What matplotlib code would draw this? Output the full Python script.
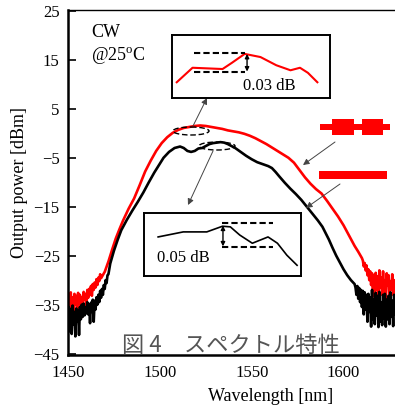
import matplotlib.pyplot as plt
import matplotlib.patches as mpatches
import numpy as np

plt.rcParams['font.family'] = ['Liberation Serif', 'DejaVu Serif']
plt.rcParams['mathtext.fontset'] = 'custom'
plt.rcParams['mathtext.rm'] = 'Liberation Serif'

# red spectrum (wavelength nm, power dBm)
red_wl = [1450.0, 1450.5, 1451.0, 1451.5, 1452.0, 1452.5, 1453.0, 1453.5, 1454.0, 1454.5,
          1455.0, 1455.5, 1456.0, 1456.5, 1457.0, 1457.5, 1458.0, 1458.5, 1459.0, 1459.5,
          1460.0, 1460.5, 1461.0, 1461.5, 1462.0, 1462.5, 1463.0, 1463.5, 1464.0, 1464.5,
          1465.0, 1465.5, 1466.0, 1466.5, 1467.0, 1467.5, 1468.0,
          1470, 1472, 1474, 1476, 1478, 1480, 1483, 1486, 1489, 1492, 1495, 1498, 1501,
          1504, 1507, 1510, 1513, 1516, 1519, 1522, 1525, 1528, 1531, 1534, 1537, 1540,
          1543, 1546, 1549, 1552, 1555, 1558, 1561, 1564, 1567, 1570, 1573, 1576, 1579,
          1582, 1585, 1588, 1591, 1594, 1597, 1600, 1603, 1606, 1608, 1610,
          1610.5, 1611.0, 1611.5, 1612.0, 1612.5, 1613.0, 1613.5, 1614.0, 1614.5, 1615.0,
          1615.5, 1616.0, 1616.5, 1617.0, 1617.5, 1618.0, 1618.5, 1619.0, 1619.5, 1620.0,
          1620.5, 1621.0, 1621.5, 1622.0, 1622.5, 1623.0, 1623.5, 1624.0, 1624.5, 1625.0,
          1625.5, 1626.0, 1626.5, 1627.0, 1627.5, 1628.0]
red_pw = [-37.5, -33.0, -36.0, -32.5, -35.5, -33.5, -37.0, -32.8, -35.0, -33.2,
          -36.5, -32.6, -34.8, -33.0, -37.8, -33.5, -35.2, -32.4, -34.0, -32.8,
          -35.5, -32.0, -33.6, -31.8, -33.0, -31.2, -33.2, -30.8, -32.0, -30.5,
          -31.5, -29.8, -31.0, -29.5, -30.2, -28.8, -29.6,
          -28.3, -26.2, -23.8, -21.5, -19.6, -17.8, -15.4, -13.3, -10.6, -7.8, -5.6, -3.6, -2.0,
          -0.8, 0.1, 0.7, 1.1, 1.3, 1.5, 1.6, 1.5, 1.3, 1.1, 0.9, 0.6, 0.4,
          0.2, -0.1, -0.5, -1.0, -1.6, -2.2, -2.9, -3.6, -4.3, -5.0, -6.0, -7.5, -9.0,
          -10.3, -11.4, -12.3, -13.8, -15.4, -17.0, -18.8, -20.9, -23.0, -24.2, -25.5,
          -26.0, -27.2, -26.5, -28.0, -27.0, -29.0, -27.8, -30.0, -28.2, -31.0,
          -28.6, -32.5, -29.0, -33.5, -28.5, -32.0, -29.2, -34.0, -28.0, -31.5,
          -29.5, -33.0, -28.2, -32.8, -30.0, -34.2, -28.6, -31.0, -29.0, -33.5,
          -30.2, -32.0, -28.8, -33.0, -30.0, -31.5]

# black spectrum
blk_wl = [1450.0, 1450.5, 1451.0, 1451.5, 1452.0, 1452.5, 1453.0, 1453.5, 1454.0, 1454.5,
          1455.0, 1455.5, 1456.0, 1456.5, 1457.0, 1457.5, 1458.0, 1458.5, 1459.0, 1459.5,
          1460.0, 1460.5, 1461.0, 1461.5, 1462.0, 1462.5, 1463.0, 1463.5, 1464.0, 1464.5,
          1465.0, 1465.5, 1466.0, 1466.5, 1467.0, 1467.5, 1468.0, 1468.5, 1469.0, 1469.5,
          1470.0, 1470.5, 1471.0, 1471.5, 1472.0,
          1473, 1475, 1477, 1479, 1482, 1485, 1488, 1491, 1494, 1497, 1499, 1502, 1505,
          1508, 1511, 1513, 1515, 1517, 1519, 1521, 1523, 1525, 1527, 1529, 1531, 1533,
          1535, 1537, 1539, 1541, 1544, 1547, 1550, 1553, 1556, 1559, 1561, 1563, 1565,
          1568, 1571, 1574, 1577, 1580, 1583, 1586, 1588.5, 1590, 1592, 1594, 1596, 1598,
          1600, 1602, 1604, 1606,
          1606.5, 1607.0, 1607.5, 1608.0, 1608.5, 1609.0, 1609.5, 1610.0, 1610.5, 1611.0,
          1611.5, 1612.0, 1612.5, 1613.0, 1613.5, 1614.0, 1614.5, 1615.0, 1615.5, 1616.0,
          1616.5, 1617.0, 1617.5, 1618.0, 1618.5, 1619.0, 1619.5, 1620.0, 1620.5, 1621.0,
          1621.5, 1622.0, 1622.5, 1623.0, 1623.5, 1624.0, 1624.5, 1625.0, 1625.5, 1626.0,
          1626.5, 1627.0, 1627.5, 1628.0]
blk_pw = [-38.0, -35.5, -40.5, -36.0, -41.0, -35.2, -39.0, -36.5, -41.5, -35.8,
          -38.5, -36.2, -41.2, -35.5, -38.0, -35.0, -37.5, -34.8, -37.2, -35.6,
          -36.8, -34.5, -37.0, -35.0, -38.8, -34.6, -36.5, -34.0, -38.5, -34.2,
          -36.0, -33.5, -35.0, -33.0, -34.5, -32.2, -33.6, -31.8, -33.0, -31.0,
          -31.8, -30.0, -30.6, -29.0, -28.8,
          -26.6, -24.0, -21.8, -19.8, -17.7, -15.8, -14.0, -12.1, -10.0, -8.0, -6.8, -5.0, -3.8,
          -3.0, -2.7, -3.0, -3.6, -3.8, -3.6, -3.1, -3.0, -2.6, -2.2, -2.0, -1.9, -1.8,
          -1.9, -2.2, -2.6, -3.0, -3.8, -4.6, -5.3, -5.9, -6.3, -6.7, -7.1, -7.9, -8.8,
          -10.1, -11.3, -12.4, -13.6, -15.0, -16.4, -17.8, -19.1, -20.2, -21.7, -23.4, -25.0, -26.4,
          -27.8, -29.0, -30.0, -30.8,
          -31.5, -33.0, -31.2, -33.8, -31.6, -34.5, -32.0, -35.5, -32.2, -37.0,
          -32.5, -36.0, -33.0, -38.5, -32.8, -36.5, -33.5, -39.5, -32.0, -38.0,
          -34.0, -39.0, -32.6, -37.2, -33.2, -39.6, -32.4, -38.5, -34.5, -39.2,
          -33.0, -37.8, -32.8, -39.5, -34.0, -38.0, -33.2, -39.0, -32.5, -37.5,
          -34.2, -39.4, -33.0, -37.0]

# zoomed insets (relative units, 0..1)
up_x = [0.03, 0.13, 0.32, 0.38, 0.46, 0.56, 0.66, 0.75, 0.81, 0.86, 0.92]
up_y = [0.25, 0.48, 0.46, 0.56, 0.70, 0.65, 0.52, 0.44, 0.48, 0.40, 0.25]
lo_x = [0.09, 0.25, 0.40, 0.50, 0.55, 0.61, 0.69, 0.74, 0.79, 0.85, 0.91, 0.975]
lo_y = [0.62, 0.70, 0.70, 0.79, 0.78, 0.65, 0.52, 0.57, 0.62, 0.52, 0.33, 0.17]

yticks = [-45, -35, -25, -15, -5, 5, 15, 25]
xticks = [1450, 1500, 1550, 1600]

W, H = 395, 407
fig = plt.figure(figsize=(W / 100, H / 100), dpi=100)
ax = fig.add_axes([68 / W, 1 - 355 / H, 1 - 68 / W, (355 - 10) / H])

ax.plot(red_wl, red_pw, color='#ff0000', lw=1.9, zorder=2)
ax.plot(blk_wl, blk_pw, color='black', lw=1.9, zorder=3)

ax.set_xlim(1450, 1628)
ax.set_ylim(-45.3, 25.2)
ax.set_xticks(xticks)
ax.set_yticks(yticks)
ax.tick_params(axis='y', direction='in', length=6, width=1.2, labelsize=12, pad=6)
ax.tick_params(axis='x', length=0, labelsize=12, pad=7)
ax.spines['right'].set_visible(False)
ax.spines['top'].set_linewidth(1.0)
ax.spines['left'].set_linewidth(1.8)
ax.spines['bottom'].set_linewidth(1.8)
ax.set_xlabel('Wavelength [nm]', fontsize=13)
ax.xaxis.set_label_coords((271 - 68) / (W - 68), -0.095)
ax.set_ylabel('Output power [dBm]', fontsize=13, labelpad=4)

ax.text(0.07, 0.935, 'CW', transform=ax.transAxes, fontsize=13, va='center')
ax.text(0.07, 0.865, r'@25$^{\rm o}$C', transform=ax.transAxes, fontsize=13, va='center')

# overlay in pixel units for annotations
ov = fig.add_axes([0, 0, 1, 1], zorder=5)
ov.set_xlim(0, W)
ov.set_ylim(H, 0)
ov.axis('off')

for cx, cy in [(191, 131), (217, 146)]:
    ov.add_patch(mpatches.Ellipse((cx, cy), 36, 8, fill=False, ec='black', lw=1.0,
                                  ls=(0, (4, 2))))

arr = dict(arrowstyle='-|>', color='#444444', lw=0.7, mutation_scale=9,
           shrinkA=0, shrinkB=0)
for (x0, y0), (x1, y1) in [((193, 126), (207, 98)), ((213, 151), (188, 205)),
                           ((335, 142), (303, 165)), ((340, 184), (306, 208))]:
    ov.annotate('', xy=(x1, y1), xytext=(x0, y0), arrowprops=arr)

# device icons
ov.add_patch(mpatches.Rectangle((320, 124), 70, 6, color='#ff0000', lw=0))
ov.add_patch(mpatches.Rectangle((332, 119), 22, 16, color='#ff0000', lw=0))
ov.add_patch(mpatches.Rectangle((362, 119), 21, 16, color='#ff0000', lw=0))
ov.add_patch(mpatches.Rectangle((319, 171), 68, 8, color='#ff0000', lw=0))

ov.text(122, 352, '図 4　スペクトル特性', fontsize=16, color='#555555', va='baseline',
        family=['Noto Sans CJK JP', 'DejaVu Sans'])

# insets
dash = (0, (3, 1.5))
ins1 = fig.add_axes([172 / W, 1 - 98 / H, 158 / W, 63 / H], zorder=6)
ins1.plot(up_x, up_y, color='#ff0000', lw=1.5)
ins1.plot([0.139, 0.462], [0.714, 0.714], color='black', lw=1.5, ls=dash)
ins1.plot([0.139, 0.462], [0.413, 0.413], color='black', lw=1.5, ls=dash)
ins1.annotate('', xy=(0.475, 0.70), xytext=(0.475, 0.42),
              arrowprops=dict(arrowstyle='<|-|>', color='black', lw=1.0,
                              mutation_scale=6, shrinkA=0, shrinkB=0))
ins1.text(0.45, 0.19, '0.03 dB', fontsize=12, va='center')

ins2 = fig.add_axes([144 / W, 1 - 276 / H, 157 / W, 63 / H], zorder=6)
ins2.plot(lo_x, lo_y, color='black', lw=1.2)
ins2.plot([0.497, 0.822], [0.841, 0.841], color='black', lw=1.5, ls=dash)
ins2.plot([0.497, 0.822], [0.46, 0.46], color='black', lw=1.5, ls=dash)
ins2.annotate('', xy=(0.503, 0.80), xytext=(0.503, 0.47),
              arrowprops=dict(arrowstyle='<|-|>', color='black', lw=1.0,
                              mutation_scale=6, shrinkA=0, shrinkB=0))
ins2.text(0.083, 0.28, '0.05 dB', fontsize=12, va='center')

for a in (ins1, ins2):
    a.set_xlim(0, 1)
    a.set_ylim(0, 1)
    a.set_xticks([])
    a.set_yticks([])
    for s in a.spines.values():
        s.set_linewidth(1.4)

fig.savefig('out.png', dpi=100)
